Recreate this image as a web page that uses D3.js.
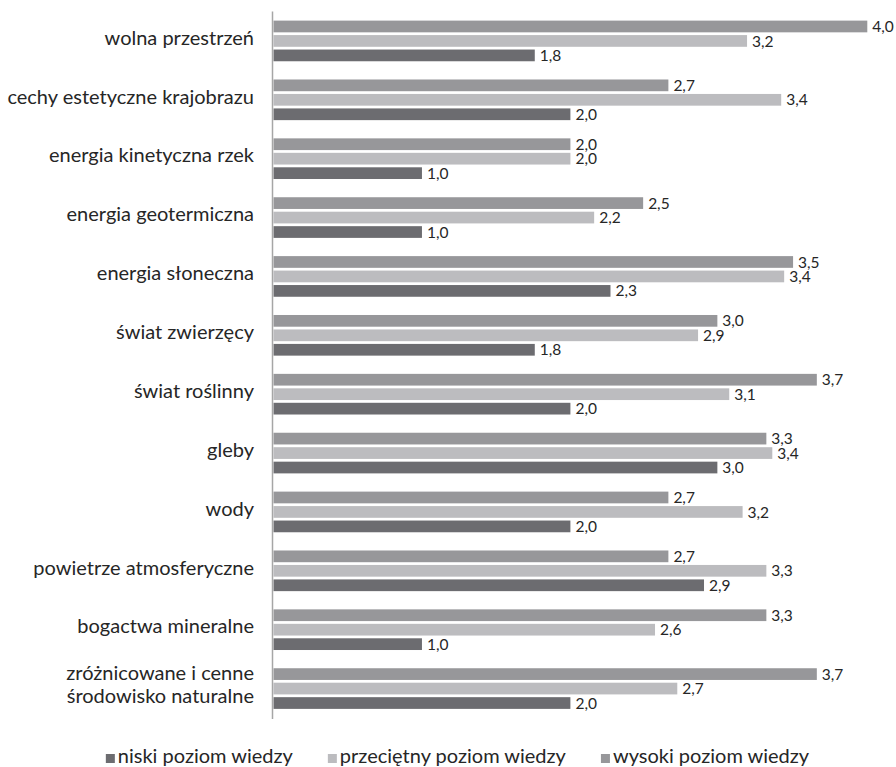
<!DOCTYPE html>
<html>
<head>
<meta charset="utf-8">
<script src="https://cdn.jsdelivr.net/npm/d3@7"></script>
<style>
  body { margin: 0; background: #fff; }
  svg { display: block; font-family: Lato, "Open Sans", sans-serif; }
</style>
</head>
<body>
<svg id="chart" width="896" height="767"></svg>
<script>
// categories, top to bottom
const categories = [
  "wolna przestrzeń",
  "cechy estetyczne krajobrazu",
  "energia kinetyczna rzek",
  "energia geotermiczna",
  "energia słoneczna",
  "świat zwierzęcy",
  "świat roślinny",
  "gleby",
  "wody",
  "powietrze atmosferyczne",
  "bogactwa mineralne",
  "zróżnicowane i cenne\nśrodowisko naturalne"
];

const seriesNames = ["niski poziom wiedzy", "przeciętny poziom wiedzy", "wysoki poziom wiedzy"];

// values (labels show them rounded to one decimal)
const niski      = [1.76, 2.00, 1.00, 1.00, 2.27, 1.76, 2.00, 2.99, 2.00, 2.90, 1.00, 2.00];
const przecietny = [3.19, 3.42, 2.00, 2.16, 3.44, 2.86, 3.07, 3.36, 3.16, 3.32, 2.57, 2.72];
const wysoki     = [4.00, 2.66, 2.00, 2.49, 3.50, 2.99, 3.66, 3.32, 2.66, 2.66, 3.32, 3.66];

const xMax = 4;

const colors = {
  "niski poziom wiedzy": "#6c6c70",
  "przeciętny poziom wiedzy": "#bcbcbf",
  "wysoki poziom wiedzy": "#97979a"
};

const svg = d3.select("#chart");

const x = d3.scaleLinear().domain([0, xMax]).range([273.5, 867.3]);
const y = d3.scaleBand().domain(categories).range([11.5, 718]).paddingInner(0).paddingOuter(0);

// order of bars inside a group: wysoki on top, niski at the bottom
const inner = d3.scaleBand()
  .domain(["wysoki poziom wiedzy", "przeciętny poziom wiedzy", "niski poziom wiedzy"])
  .range([0, y.bandwidth()])
  .paddingInner(0.19)
  .paddingOuter(0.63);

const valuesBySeries = {
  "niski poziom wiedzy": niski,
  "przeciętny poziom wiedzy": przecietny,
  "wysoki poziom wiedzy": wysoki
};

const rows = [];
categories.forEach((c, i) => {
  seriesNames.forEach(s => rows.push({ cat: c, series: s, value: valuesBySeries[s][i] }));
});

const fmt = v => d3.format(".1f")(v).replace(".", ",");

// bars
svg.append("g").selectAll("rect")
  .data(rows)
  .join("rect")
  .attr("x", x(0))
  .attr("y", d => y(d.cat) + inner(d.series))
  .attr("width", d => x(d.value) - x(0))
  .attr("height", inner.bandwidth())
  .attr("fill", d => colors[d.series]);

// value labels
svg.append("g").selectAll("text")
  .data(rows)
  .join("text")
  .attr("x", d => x(d.value) + 5)
  .attr("y", d => y(d.cat) + inner(d.series) + inner.bandwidth() / 2)
  .attr("dy", "0.36em")
  .attr("font-size", 15.5)
  .attr("fill", "#262626")
  .text(d => fmt(d.value));

// vertical axis line
svg.append("line")
  .attr("x1", x(0) - 1).attr("x2", x(0) - 1)
  .attr("y1", y.range()[0]).attr("y2", y.range()[1] + 1)
  .attr("stroke", "#a6a6a6")
  .attr("stroke-width", 1.5);

// category labels
const catG = svg.append("g").selectAll("text")
  .data(categories)
  .join("text")
  .attr("x", 254)
  .attr("text-anchor", "end")
  .attr("font-size", 20)
  .attr("fill", "#262626");

catG.each(function (d) {
  const lines = d.split("\n");
  const cy = y(d) + y.bandwidth() / 2;
  const t = d3.select(this);
  if (lines.length === 1) {
    t.attr("y", cy + 3.7).text(d);
  } else {
    lines.forEach((ln, j) => {
      t.append("tspan").attr("x", 254).attr("y", cy - 9 + j * 23).text(ln);
    });
  }
});

// legend
const legend = svg.append("g");
const items = legend.selectAll("g")
  .data(seriesNames)
  .join("g");

items.append("rect")
  .attr("width", 9).attr("height", 9)
  .attr("y", 754)
  .attr("fill", d => colors[d]);

items.append("text")
  .attr("x", 12)
  .attr("y", 763)
  .attr("font-size", 20)
  .attr("fill", "#262626")
  .text(d => d);

const gap = 35;
let lx = 0;
const widths = [];
items.each(function () {
  const w = 12 + d3.select(this).select("text").node().getComputedTextLength();
  widths.push(w);
});
const total = d3.sum(widths) + gap * (widths.length - 1);
lx = 457.5 - total / 2;
items.each(function (d, i) {
  d3.select(this).attr("transform", `translate(${lx},0)`);
  lx += widths[i] + gap;
});
</script>
</body>
</html>
